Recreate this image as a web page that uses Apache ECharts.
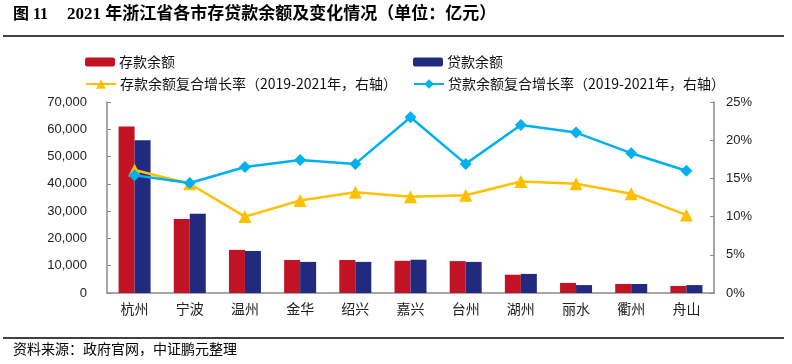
<!DOCTYPE html>
<html>
<head>
<meta charset="utf-8">
<script src="https://cdn.jsdelivr.net/npm/echarts@6/dist/echarts.min.js"></script>
<style>
html,body{margin:0;padding:0;background:#fff;}
#chart{width:792px;height:364px;}
</style>
</head>
<body>
<div id="chart"></div>
<script>
var categories = ['杭州','宁波','温州','金华','绍兴','嘉兴','台州','湖州','丽水','衢州','舟山'];
var deposits = [61000, 27100, 15800, 12100, 12100, 11800, 11700, 6700, 3700, 3300, 2600];
var loans = [56000, 29000, 15400, 11400, 11400, 12200, 11400, 7000, 2900, 3300, 2900];
var depositCAGR = [16.1, 14.3, 10.0, 12.1, 13.2, 12.6, 12.8, 14.6, 14.3, 13.0, 10.2];
var loanCAGR = [15.4, 14.4, 16.5, 17.4, 16.9, 23.0, 16.9, 22.0, 21.0, 18.3, 16.0];
var seriesNames = ['存款余额','贷款余额','存款余额复合增长率（2019-2021年，右轴）','贷款余额复合增长率（2019-2021年，右轴）'];
var titleNo = '图 11';
var titleText = '2021 年浙江省各市存贷款余额及变化情况（单位：亿元）';
var sourceText = '资料来源：政府官网，中证鹏元整理';

var chart = echarts.init(document.getElementById('chart'), null, {renderer:'canvas'});
var sans = '"Liberation Sans", Arial, "Noto Sans CJK SC", sans-serif';
var cjk = '"Noto Sans CJK SC", sans-serif';
var axisColor = '#8a8a8a';
var colors = ['#C21325','#212A7F','#FFC000','#00B0F0'];

function legendAt(name, left, top, w, h) {
  return {
    data:[name], left:left, top:top, itemWidth:w, itemHeight:h, itemGap:0,
    textStyle:{fontSize:14, color:'#111', fontFamily:cjk, padding:[0,0,0,-1]},
    selectedMode:false, padding:0
  };
}

chart.setOption({
  animation:false,
  color: colors,
  graphic:[
    {type:'text', left:13, top:7, style:{text:titleNo, font:'bold 16px "Liberation Serif", "Noto Sans CJK SC", serif', fill:'#000'}},
    {type:'text', left:67, top:6, style:{text:titleText, font:'bold 17px "Liberation Serif", "Noto Sans CJK SC", serif', fill:'#000'}},
    {type:'line', shape:{x1:3,y1:36,x2:784,y2:36}, style:{stroke:'#000', lineWidth:1.5}},
    {type:'line', shape:{x1:3,y1:338,x2:784,y2:338}, style:{stroke:'#000', lineWidth:1.5}},
    {type:'text', left:13, top:342, style:{text:sourceText, font:'14px "Noto Sans CJK SC", sans-serif', fill:'#000'}}
  ],
  legend:[
    legendAt(seriesNames[0], 85, 55, 30, 9),
    legendAt(seriesNames[1], 413, 55, 30, 9),
    legendAt(seriesNames[2], 85, 77, 30, 12),
    legendAt(seriesNames[3], 413, 77, 30, 12)
  ],
  grid:{left:107, right:78, top:102, bottom:71, containLabel:false},
  xAxis:{
    type:'category', data:categories,
    axisLine:{lineStyle:{color:axisColor, width:1.5}},
    axisTick:{show:false},
    axisLabel:{fontSize:14, color:'#222', fontFamily:cjk, margin:9}
  },
  yAxis:[
    {type:'value', min:0, max:70000, interval:10000,
     axisLine:{show:true, lineStyle:{color:axisColor, width:1.5}},
     axisTick:{show:true, inside:true, length:4, lineStyle:{color:axisColor}},
     splitLine:{show:false},
     axisLabel:{fontSize:13, color:'#222', fontFamily:sans, margin:20,
       formatter:function(v){return v.toLocaleString('en-US');}}},
    {type:'value', min:0, max:25, interval:5, position:'right',
     axisLine:{show:true, lineStyle:{color:axisColor, width:1.5}},
     axisTick:{show:true, inside:true, length:4, lineStyle:{color:axisColor}},
     splitLine:{show:false},
     axisLabel:{fontSize:13, color:'#222', fontFamily:sans, margin:12, formatter:'{value}%'}}
  ],
  series:[
    {name:seriesNames[0], type:'bar', data:deposits, barWidth:16, barGap:'0%', itemStyle:{color:colors[0]}},
    {name:seriesNames[1], type:'bar', data:loans, barWidth:16, barGap:'0%', itemStyle:{color:colors[1]}},
    {name:seriesNames[2], type:'line', yAxisIndex:1, data:depositCAGR, symbol:'triangle', symbolSize:13,
     lineStyle:{width:2.5, color:colors[2]}, itemStyle:{color:colors[2]}, z:5},
    {name:seriesNames[3], type:'line', yAxisIndex:1, data:loanCAGR, symbol:'diamond', symbolSize:12,
     lineStyle:{width:2.5, color:colors[3]}, itemStyle:{color:colors[3]}, z:6}
  ]
});
</script>
</body>
</html>
